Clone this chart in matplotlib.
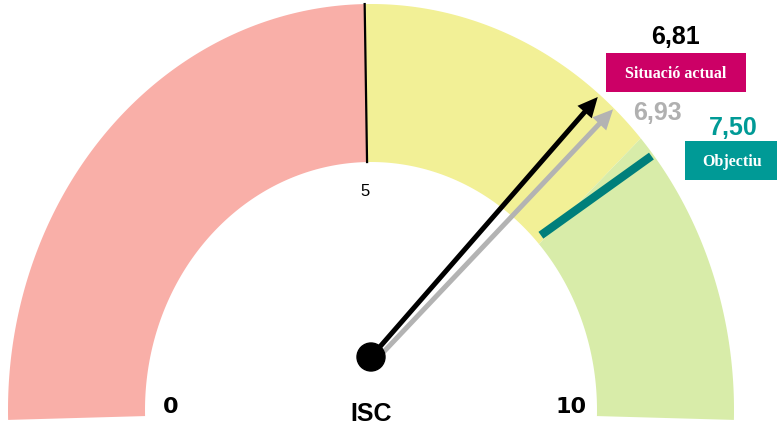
import numpy as np
import matplotlib.pyplot as plt
from matplotlib.patches import Polygon, Circle, Rectangle

# gauge bands (ISC scale 0-10)
band_edges = [0, 5, 7.5, 10]
band_colors = ['#F9AFA8', '#F2F096', '#D8ECA9']
tick_values = [0, 5, 10]
tick_labels = ['0', '5', '10']

current_value = 6.81
previous_value = 6.93
target_value = 7.50

# band scale: value -> angle on the gauge ring (degrees), stops at the band edges
scale_angles = [181.4, 91.0, 42.0, -1.4]

# needle scale: value -> angle around the hub
needle_start = 180.0
needle_step = 19.25
needle_len = 345

# layout in pixels
cx, cy = 371, 411
rx_out, ry_out = 363, 406
rx_in, ry_in = 226, 248
hub = (371, 358)


def val_to_angle(v):
    return np.interp(v, band_edges, scale_angles)


def point(angle, frac=1.0, inner=False):
    t = np.radians(angle)
    if inner:
        return cx + frac * rx_in * np.cos(t), cy - frac * ry_in * np.sin(t)
    return cx + frac * rx_out * np.cos(t), cy - frac * ry_out * np.sin(t)


def hub_point(v, r, origin=hub):
    t = np.radians(needle_start - v * needle_step)
    return origin[0] + r * np.cos(t), origin[1] - r * np.sin(t)


fig = plt.figure(figsize=(7.77, 4.31), dpi=100)
ax = fig.add_axes([0, 0, 1, 1])
ax.set_xlim(0, 777)
ax.set_ylim(431, 0)
ax.axis('off')

# coloured bands
for i in range(len(band_colors)):
    a1 = val_to_angle(band_edges[i])
    a2 = val_to_angle(band_edges[i + 1])
    angs = np.linspace(a1, a2, 120)
    outer = [point(a) for a in angs]
    inner = [point(a, inner=True) for a in angs[::-1]]
    ax.add_patch(Polygon(outer + inner, closed=True, facecolor=band_colors[i],
                         edgecolor='none', zorder=1))

# divider at 5
a5 = val_to_angle(5)
p1, p2 = point(a5), point(a5, inner=True)
ax.plot([p1[0], p2[0]], [p1[1], p2[1]], color='black', lw=1.6, zorder=2)

# target marker
p1, p2 = hub_point(target_value, 209), hub_point(target_value, needle_len)
ax.plot([p1[0], p2[0]], [p1[1], p2[1]], color='#007F7B', lw=6,
        solid_capstyle='butt', zorder=3)


def needle(v, color, z, shift=(0, 0)):
    origin = (hub[0] + shift[0], hub[1] + shift[1])
    tx, ty = hub_point(v, needle_len, origin)
    ax.arrow(origin[0], origin[1], tx - origin[0], ty - origin[1], width=5,
             head_width=19, head_length=20, length_includes_head=True,
             color=color, lw=0, zorder=z)


# previous value sits slightly behind the current one
needle(previous_value, '#B3B3B3', 4, shift=(5, 3))
needle(current_value, 'black', 5)
ax.add_patch(Circle(hub, 14, color='black', zorder=6))

# tick labels
for v, lab in zip(tick_values, tick_labels):
    a = np.clip(val_to_angle(v), 0, 180)
    x, y = point(a, 0.885, inner=True)
    if v == 5:
        ax.text(x - 2, y, lab, ha='center', va='center', fontsize=12,
                family='Liberation Sans', zorder=7)
    else:
        ax.text(x, y - 4, lab, ha='center', va='center', fontsize=16,
                fontweight='bold', family='DejaVu Sans', zorder=7)

ax.text(371, 414, 'ISC', ha='center', va='center', fontsize=18,
        fontweight='bold', family='Liberation Sans')

# value labels
fmt = lambda v: f'{v:.2f}'.replace('.', ',')
ax.text(675, 37, fmt(current_value), ha='center', va='center', fontsize=18,
        fontweight='bold', family='Liberation Sans', color='black')
ax.text(657, 113, fmt(previous_value), ha='center', va='center', fontsize=18,
        fontweight='bold', family='Liberation Sans', color='#B0B0B0')
ax.text(733, 128, fmt(target_value), ha='center', va='center', fontsize=18,
        fontweight='bold', family='Liberation Sans', color='#009A96')

ax.add_patch(Rectangle((606, 54), 140, 39, facecolor='#CC0066',
                       edgecolor='none', zorder=7))
ax.text(676, 73.5, 'Situació actual', ha='center', va='center', fontsize=11.5,
        fontweight='bold', family='Liberation Serif', color='white', zorder=8)

ax.add_patch(Rectangle((685, 142), 92, 39, facecolor='#009A96',
                       edgecolor='none', zorder=7))
ax.text(732, 162, 'Objectiu', ha='center', va='center', fontsize=11.5,
        fontweight='bold', family='Liberation Serif', color='white', zorder=8)

fig.savefig('out.png', dpi=100)
